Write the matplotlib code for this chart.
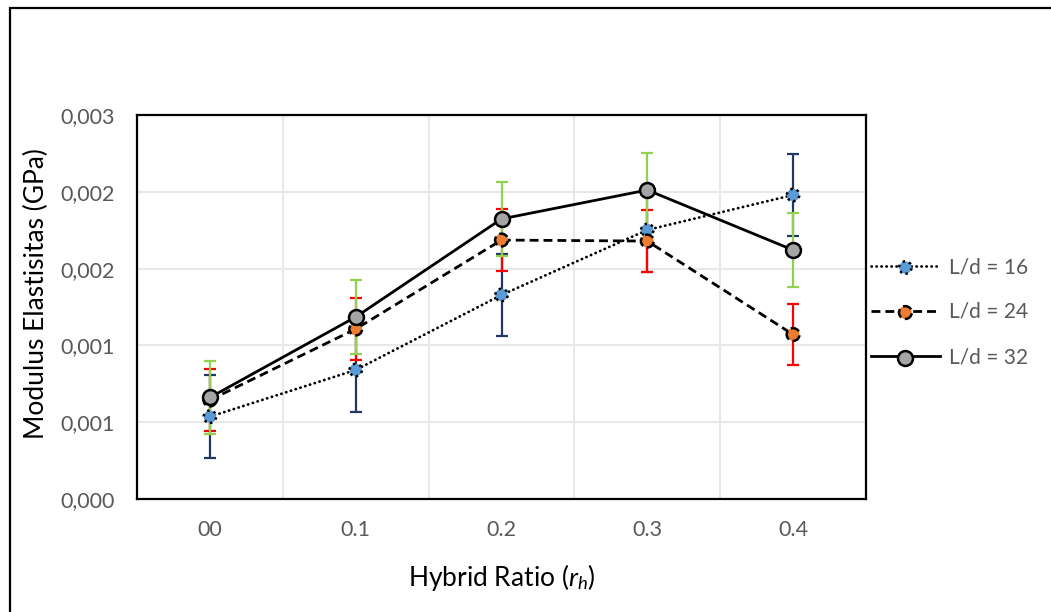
import numpy as np
import matplotlib.pyplot as plt
from matplotlib.patches import Rectangle
from matplotlib.legend_handler import HandlerTuple

plt.rcParams['font.family'] = ['Lato', 'DejaVu Sans']
plt.rcParams['mathtext.fontset'] = 'custom'
plt.rcParams['mathtext.it'] = 'Lato:italic'
plt.rcParams['mathtext.rm'] = 'Lato'

categories = ['00', '0.1', '0.2', '0.3', '0.4']
y_ticks = [0, 0.0006, 0.0012, 0.0018, 0.0024, 0.003]
y_tick_labels = ['0,000', '0,001', '0,001', '0,002', '0,002', '0,003']

ld16 = [0.000643, 0.001008, 0.001594, 0.002102, 0.002375]
ld16_err = [0.000325, 0.000325, 0.000320, 0.000328, 0.000320]
ld24 = [0.000773, 0.001328, 0.002023, 0.002015, 0.001285]
ld24_err = [0.000240, 0.000242, 0.000240, 0.000245, 0.000238]
ld32 = [0.000793, 0.001422, 0.002188, 0.002414, 0.001945]
ld32_err = [0.000289, 0.000287, 0.000287, 0.000289, 0.000289]

grey = '#595959'
x = np.arange(len(categories))

fig = plt.figure(figsize=(10.51, 6.12), dpi=100)
ax = fig.add_axes([137/1051, 1-499/612, (866-137)/1051, (499-115)/612])

series = [
    ('L/d = 16', ld16, ld16_err, '#5B9BD5', '#1F3864', dict(dashes=(0.1, 1.7), dash_capstyle='round'), ':', 80),
    ('L/d = 24', ld24, ld24_err, '#ED7D31', '#FF0000', dict(dashes=(3.2, 1.8)), '--', 85),
    ('L/d = 32', ld32, ld32_err, '#A5A5A5', '#92D050', dict(), '-', 115),
]

handles = []
for i, (name, vals, errs, fill, ecol, dash, mstyle, size) in enumerate(series):
    line, = ax.plot(x, vals, color='black', lw=2.0, zorder=3 + i, **dash)
    ax.errorbar(x, vals, yerr=errs, fmt='none', ecolor=ecol, elinewidth=1.6,
                capsize=4.6, capthick=1.6, zorder=3 + i)
    sc = ax.scatter(x, vals, s=size, facecolor=fill, edgecolor='black',
                    linewidths=1.8, linestyles=mstyle, zorder=6 + i)
    handles.append((line, sc))

ax.set_xlim(-0.5, 4.5)
ax.set_ylim(0, 0.003)
ax.set_xticks(x)
ax.set_xticklabels(categories)
ax.set_yticks(y_ticks)
ax.set_yticklabels(y_tick_labels)
ax.set_xticks(np.arange(0.5, 4.5, 1), minor=True)
ax.tick_params(axis='both', which='both', length=0, labelsize=15.5, labelcolor=grey)
ax.tick_params(axis='x', pad=15)
ax.tick_params(axis='y', pad=16)
ax.grid(True, axis='y', which='major', color='#E8E8E8', lw=1.5)
ax.grid(True, axis='x', which='minor', color='#E8E8E8', lw=1.5)
ax.set_axisbelow(True)
for sp in ax.spines.values():
    sp.set_color('black')
    sp.set_linewidth(1.6)

ax.set_xlabel('Hybrid Ratio ($r_h$)', fontsize=19)
ax.set_ylabel('Modulus Elastisitas (GPa)', fontsize=19)
ax.xaxis.set_label_coords(0.5, -0.165)
ax.yaxis.set_label_coords(-0.121, 0.535)

leg = fig.legend(handles, [s[0] for s in series], loc='center left',
                 bbox_to_anchor=(871/1051, 1-312/612), frameon=False,
                 fontsize=15, labelcolor=grey, handlelength=3.3,
                 handletextpad=0.45, labelspacing=1.2, borderpad=0,
                 borderaxespad=0, scatterpoints=1,
                 handler_map={tuple: HandlerTuple(ndivide=1, pad=0)})

fig.patches.append(Rectangle((10/1051, -0.1), 1.2, 1.1 - 8/612,
                             transform=fig.transFigure, fill=False,
                             edgecolor='black', lw=1.6, clip_on=False))

fig.savefig('out.png', dpi=100)
